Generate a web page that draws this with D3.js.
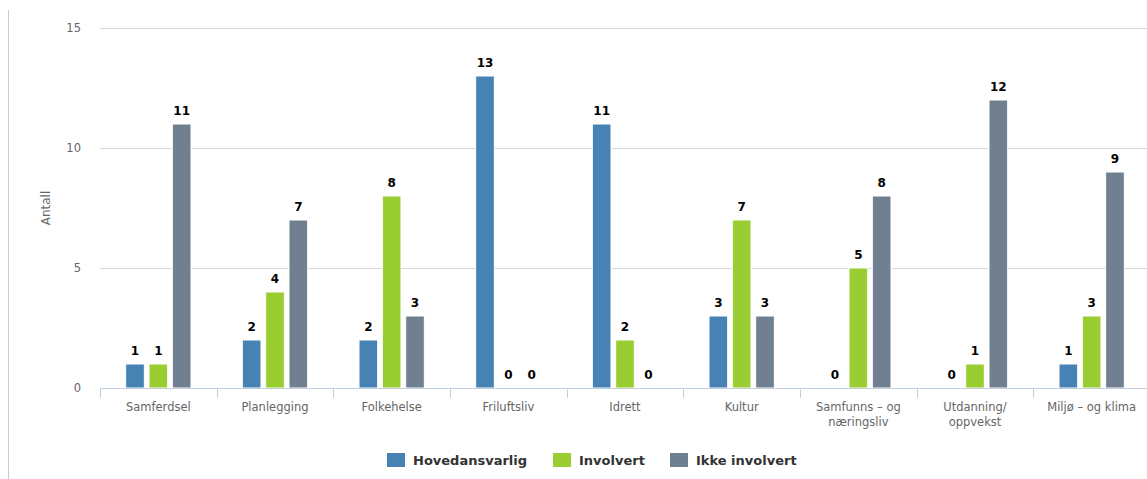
<!DOCTYPE html>
<html>
<head>
<meta charset="utf-8">
<script src="https://cdn.jsdelivr.net/npm/d3@7"></script>
<style>
  html, body { margin: 0; padding: 0; background: #fff; overflow: hidden; }
  svg { display: block; font-family: "DejaVu Sans", "Lucida Grande", sans-serif; }
</style>
</head>
<body>
<svg id="chart" width="1147" height="479"></svg>
<script>
const categories = ["Samferdsel", "Planlegging", "Folkehelse", "Friluftsliv", "Idrett", "Kultur", "Samfunns – og næringsliv", "Utdanning/ oppvekst", "Miljø – og klima"];
const seriesNames = ["Hovedansvarlig", "Involvert", "Ikke involvert"];
const hovedansvarlig = [1, 2, 2, 13, 11, 3, 0, 0, 1];
const involvert = [1, 4, 8, 0, 2, 7, 5, 1, 3];
const ikkeInvolvert = [11, 7, 3, 0, 0, 3, 8, 12, 9];
const yTicks = [0, 5, 10, 15];
const colors = ["#4682B4", "#9ACD32", "#708090"];

const seriesValues = [hovedansvarlig, involvert, ikkeInvolvert];
const svg = d3.select("#chart");

// outer frame line on the left
svg.append("line").attr("x1", 8.5).attr("x2", 8.5).attr("y1", 10).attr("y2", 479)
  .attr("stroke", "#ccc").attr("stroke-width", 1);

const plotLeft = 100, plotRight = 1150, plotTop = 28, plotBottom = 388;
const x0 = d3.scaleBand().domain(categories).range([plotLeft, plotRight]).padding(0);
const bw = x0.bandwidth();
const x1 = d3.scaleBand().domain(seriesNames).range([0.2 * bw, 0.8 * bw]).padding(0);
const y = d3.scaleLinear().domain([0, 15]).range([plotBottom, plotTop]);

// gridlines
svg.append("g").selectAll("line").data(yTicks.filter(t => t > 0)).join("line")
  .attr("x1", plotLeft).attr("x2", plotRight)
  .attr("y1", d => Math.round(y(d)) + 0.5).attr("y2", d => Math.round(y(d)) + 0.5)
  .attr("stroke", "#D8D8D8").attr("stroke-width", 1);

// y tick labels
svg.append("g").selectAll("text").data(yTicks).join("text")
  .attr("x", 81).attr("y", d => y(d) + 4)
  .attr("text-anchor", "end").attr("font-size", 11.5).attr("fill", "#666")
  .text(d => d);

// y title
svg.append("text").attr("transform", "translate(50,208) rotate(-90)")
  .attr("text-anchor", "middle").attr("font-size", 12).attr("fill", "#666")
  .text("Antall");

// bars
const groups = svg.append("g").selectAll("g").data(categories).join("g")
  .attr("transform", d => `translate(${x0(d)},0)`);

groups.each(function (cat, ci) {
  const g = d3.select(this);
  seriesNames.forEach((s, si) => {
    const v = seriesValues[si][ci];
    const bx = x1(s) + x1.bandwidth() * 0.1;
    const bwid = x1.bandwidth() * 0.8;
    if (v > 0) {
      g.append("rect")
        .attr("x", bx).attr("y", y(v))
        .attr("width", bwid).attr("height", y(0) - y(v))
        .attr("fill", colors[si]).attr("stroke", "#fff").attr("stroke-width", 1);
    }
    g.append("text")
      .attr("x", bx + bwid / 2).attr("y", y(v) - 9)
      .attr("text-anchor", "middle").attr("font-size", 12).attr("font-weight", "bold")
      .attr("fill", "#000").text(v);
  });
});

// x axis
const axisY = plotBottom + 0.5;
svg.append("line").attr("x1", plotLeft).attr("x2", plotRight)
  .attr("y1", axisY).attr("y2", axisY).attr("stroke", "#C0D0E0").attr("stroke-width", 1);
const boundaries = categories.map(c => x0(c)).concat([plotRight]);
svg.append("g").selectAll("line").data(boundaries).join("line")
  .attr("x1", d => Math.round(d) + 0.5).attr("x2", d => Math.round(d) + 0.5)
  .attr("y1", plotBottom).attr("y2", plotBottom + 10)
  .attr("stroke", "#C0D0E0").attr("stroke-width", 1);

// category labels with width-based wrapping
const maxW = bw - 12;
svg.append("g").selectAll("text").data(categories).join("text")
  .attr("x", d => x0(d) + bw / 2).attr("y", 411)
  .attr("text-anchor", "middle").attr("font-size", 11.5).attr("fill", "#666")
  .each(function (d) {
    const t = d3.select(this);
    const cx = x0(d) + bw / 2;
    const words = d.split(" ");
    let line = [];
    let tspan = t.append("tspan").attr("x", cx).attr("dy", 0);
    words.forEach(w => {
      line.push(w);
      tspan.text(line.join(" "));
      if (tspan.node().getComputedTextLength() > maxW && line.length > 1) {
        line.pop();
        tspan.text(line.join(" "));
        line = [w];
        tspan = t.append("tspan").attr("x", cx).attr("dy", 15).text(w);
      }
    });
  });

// legend
const legendItems = [
  { name: seriesNames[0], x: 387 },
  { name: seriesNames[1], x: 553 },
  { name: seriesNames[2], x: 670 }
];
const lg = svg.append("g").selectAll("g").data(legendItems).join("g")
  .attr("transform", d => `translate(${d.x},453)`);
lg.append("rect").attr("width", 18).attr("height", 14)
  .attr("fill", (d, i) => colors[i]);
lg.append("text").attr("x", 26).attr("y", 12)
  .attr("font-size", 13).attr("font-weight", "bold").attr("fill", "#333")
  .text(d => d.name);
</script>
</body>
</html>
